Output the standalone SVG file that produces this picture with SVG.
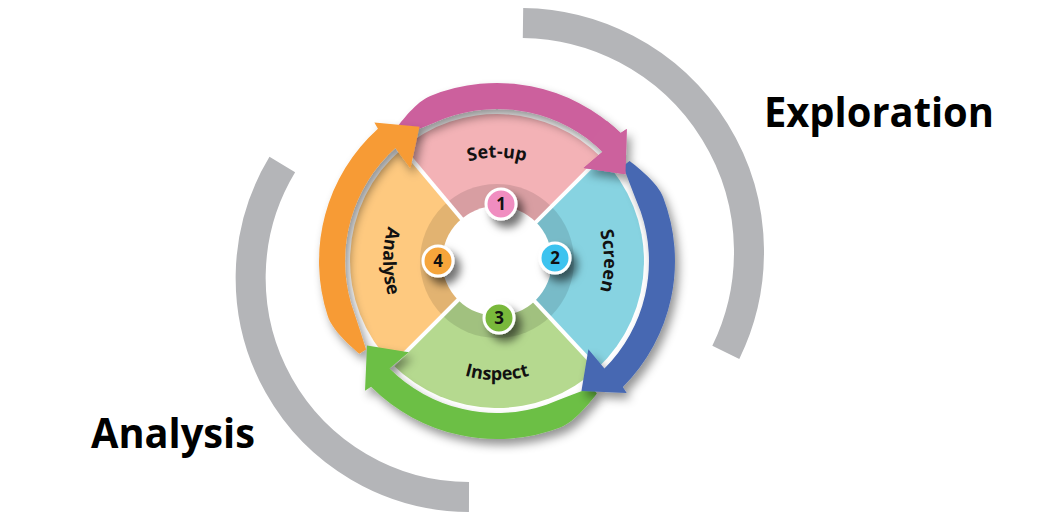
<svg xmlns="http://www.w3.org/2000/svg" width="1052" height="520" viewBox="0 0 1052 520">
  <style>
    .lbl { font-family: "Open Sans", "Liberation Sans", sans-serif; font-weight: 700; font-size: 18px; fill: #111; }
    .num { font-family: "Open Sans", "Liberation Sans", sans-serif; font-weight: 700; font-size: 17px; fill: #111; text-anchor: middle; }
    .big { font-family: "Open Sans", "Liberation Sans", sans-serif; font-weight: 700; font-size: 42px; fill: #000; }
    .gray { fill: none; stroke: #b4b5b8; stroke-width: 30; }
    .div { stroke: #fff; stroke-width: 4; }
    .badge { stroke: #fff; stroke-width: 3; }
  </style>
  <defs>
    <filter id="sh" x="-20%" y="-20%" width="140%" height="140%">
      <feDropShadow dx="4" dy="6" stdDeviation="5" flood-color="#000" flood-opacity="0.42"/>
    </filter>
    <filter id="bsh" x="-60%" y="-60%" width="220%" height="220%">
      <feDropShadow dx="6" dy="7" stdDeviation="4.5" flood-color="#000" flood-opacity="0.55"/>
    </filter>
    <path id="arrow" d="M394.8,130.2 C402,120.6 416.4,101.6 430.3,96 A178,178 0 0 1 620.7,133 L626.7,129 L625.5,174.3 L583.6,168.1 L602.6,151.7 A152,152 0 0 0 445,118.2 Q420.5,128.5 399.7,136.5 Z"/>
    <path id="head" d="M606.6,120.7 A178,178 0 0 1 620.7,133 L626.7,129 L625.5,174.3 L583.6,168.1 L602.6,151.7 A152,152 0 0 0 590.6,141.2 Z"/>
    <path id="tpSetup" d="M436.5,177.4 A102,102 0 0 1 557.5,177.4"/>
    <path id="tpScreen" d="M584.7,199.6 A107,107 0 0 1 584.7,322.4"/>
    <path id="tpInspect" d="M389.1,311.3 A119,119 0 0 0 604.9,311.3"/>
    <path id="tpAnalyse" d="M403.6,195.6 A114,114 0 0 0 403.6,326.4"/>
  </defs>

  <!-- background phase arcs -->
  <g id="phase-exploration">
    <path class="gray" d="M523,23 A229,229 0 0 1 725.8,352.4"/>
    <text class="big" x="764" y="127" textLength="230" lengthAdjust="spacingAndGlyphs">Exploration</text>
  </g>
  <g id="phase-analysis">
    <path class="gray" d="M469,497 A219,219 0 0 1 282.3,164.6"/>
    <text class="big" x="91" y="448" textLength="164" lengthAdjust="spacingAndGlyphs">Analysis</text>
  </g>

  <!-- wheel sectors -->
  <g id="sector-setup">
    <path fill="#f3b2b6" d="M497,261 L402.5,148.4 A147,147 0 0 1 600.9,157.1 Z"/>
  </g>
  <g id="sector-screen">
    <path fill="#87d3e1" d="M497,261 L600.9,157.1 A147,147 0 0 1 597.3,368.5 Z"/>
  </g>
  <g id="sector-inspect">
    <path fill="#b5d98f" d="M497,261 L597.3,368.5 A147,147 0 0 1 393.1,364.9 Z"/>
  </g>
  <g id="sector-analyse">
    <path fill="#fec97f" d="M497,261 L393.1,364.9 A147,147 0 0 1 402.5,148.4 Z"/>
  </g>
  <g id="hub">
    <circle cx="497" cy="261" r="77" fill="#000" fill-opacity="0.11"/>
    <line class="div" x1="497" y1="261" x2="400.6" y2="146.1"/>
    <line class="div" x1="497" y1="261" x2="603.1" y2="154.9"/>
    <line class="div" x1="497" y1="261" x2="599.3" y2="370.7"/>
    <line class="div" x1="497" y1="261" x2="390.9" y2="367.1"/>
    <circle cx="497" cy="261" r="55" fill="#fff"/>
  </g>

  <!-- cycle arrows -->
  <g id="connectors">
    <g filter="url(#sh)"><use href="#arrow" fill="#cc619d"/></g>
    <g filter="url(#sh)"><use href="#arrow" fill="#f79b35" transform="rotate(274 497 261)"/></g>
    <g filter="url(#sh)"><use href="#arrow" fill="#6cbf45" transform="rotate(181 497 261)"/></g>
    <g filter="url(#sh)"><use href="#arrow" fill="#4668b2" transform="rotate(91 497 261)"/></g>
    <use href="#head" fill="#cc619d"/>
  </g>

  <!-- labels -->
  <g id="label-setup"><text class="lbl" text-anchor="middle"><textPath href="#tpSetup" startOffset="50%">Set-up</textPath></text></g>
  <g id="label-screen"><text class="lbl" text-anchor="middle"><textPath href="#tpScreen" startOffset="50%">Screen</textPath></text></g>
  <g id="label-inspect"><text class="lbl" text-anchor="middle"><textPath href="#tpInspect" startOffset="50%">Inspect</textPath></text></g>
  <g id="label-analyse"><text class="lbl" text-anchor="middle"><textPath href="#tpAnalyse" startOffset="50%">Analyse</textPath></text></g>

  <!-- numbered badges -->
  <g id="badge-1">
    <circle class="badge" cx="501" cy="204" r="15" fill="#f08dc0" filter="url(#bsh)"/>
    <text class="num" x="501" y="210">1</text>
  </g>
  <g id="badge-2">
    <circle class="badge" cx="555" cy="258" r="15" fill="#3ec3ef" filter="url(#bsh)"/>
    <text class="num" x="555" y="264">2</text>
  </g>
  <g id="badge-3">
    <circle class="badge" cx="499" cy="318" r="15" fill="#79b83a" filter="url(#bsh)"/>
    <text class="num" x="499" y="324">3</text>
  </g>
  <g id="badge-4">
    <circle class="badge" cx="438" cy="261" r="15" fill="#f6a53b" filter="url(#bsh)"/>
    <text class="num" x="438" y="267">4</text>
  </g>
</svg>
